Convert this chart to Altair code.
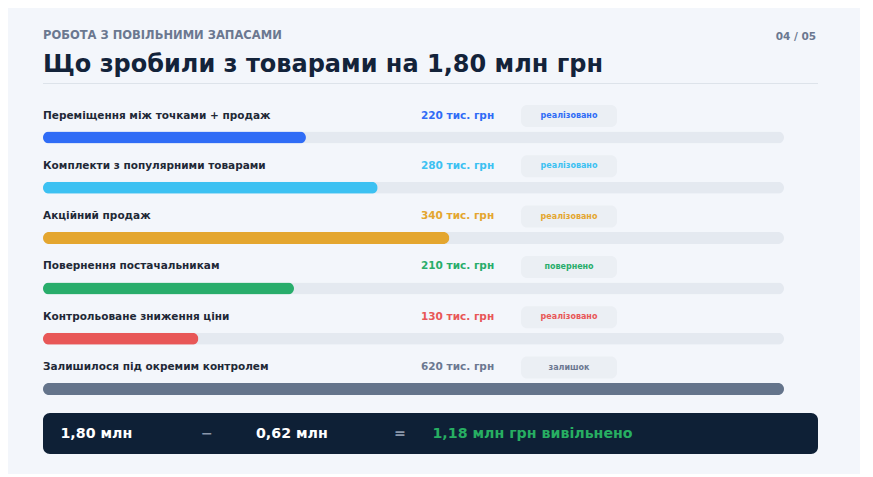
"""Slow stock actions: horizontal progress bars with a summary strip."""

import altair as alt
import pandas as pd

BG = "#f3f6fb"
INK = "#13233a"
MUTED = "#6b7890"
TRACK = "#e4e9f0"
BADGE = "#ebeff4"
NAVY = "#0e2036"
FONT = "DejaVu Sans"

labels = [
    "Переміщення між точками + продаж",
    "Комплекти з популярними товарами",
    "Акційний продаж",
    "Повернення постачальникам",
    "Контрольоване зниження ціни",
    "Залишилося під окремим контролем",
]
values = [220, 280, 340, 210, 130, 620]
value_texts = [f"{v} тис. грн" for v in values]
statuses = ["реалізовано", "реалізовано", "реалізовано", "повернено", "реалізовано", "залишок"]
bar_colors = ["#2f6cf6", "#3cc1f2", "#e4a62f", "#28ad6b", "#e85757", "#64748b"]
text_colors = ["#2f6cf6", "#3cc1f2", "#e4a62f", "#28ad6b", "#e85757", "#6b7891"]

summary_parts = ["1,80 млн", "−", "0,62 млн", "=", "1,18 млн грн вивільнено"]
summary_colors = ["#ffffff", "#8a97aa", "#ffffff", "#8a97aa", "#27ae62"]

df = pd.DataFrame(
    {
        "row": range(len(labels)),
        "label": labels,
        "value": values,
        "value_text": value_texts,
        "status": statuses,
        "color": bar_colors,
        "text_color": text_colors,
        "track": max(values),
    }
)

x_scale = alt.Scale(domain=[0, max(values)], range=[35, 776], padding=0)
y_scale = alt.Scale(domain=[0, len(labels) - 1], range=[129.5, 381], padding=0)
y_enc = alt.Y("row:Q", scale=y_scale, axis=None)

base = alt.Chart(df)

track = base.mark_bar(orient="horizontal", size=12, cornerRadius=6, color=TRACK).encode(
    x=alt.X("track:Q", scale=x_scale, axis=None), y=y_enc
)
bars = base.mark_bar(orient="horizontal", size=12, cornerRadius=6).encode(
    x=alt.X("value:Q", scale=x_scale, axis=None),
    y=y_enc,
    color=alt.Color("color:N", scale=None),
)
row_labels = base.mark_text(
    align="left", baseline="middle", dy=-22, font=FONT, fontSize=10.5, fontWeight="bold", color="#1f2937"
).encode(x=alt.value(35), y=y_enc, text="label:N")
value_labels = base.mark_text(
    align="left", baseline="middle", dy=-22, font=FONT, fontSize=10.5, fontWeight="bold"
).encode(x=alt.value(413), y=y_enc, text="value_text:N", color=alt.Color("text_color:N", scale=None))
badges = base.mark_bar(orient="horizontal", size=22, cornerRadius=6, yOffset=-21.5, color=BADGE).encode(
    x=alt.value(513), x2=alt.value(609), y=y_enc
)
badge_text = base.mark_text(
    align="center", baseline="middle", dy=-21.5, font=FONT, fontSize=8, fontWeight="bold"
).encode(x=alt.value(561), y=y_enc, text="status:N", color=alt.Color("text_color:N", scale=None))

kicker = alt.Chart(pd.DataFrame({"t": ["РОБОТА З ПОВІЛЬНИМИ ЗАПАСАМИ"]})).mark_text(
    align="left", baseline="alphabetic", font=FONT, fontSize=11.5, fontWeight="bold", color=MUTED
).encode(x=alt.value(35), y=alt.value(31), text="t:N")
page_no = alt.Chart(pd.DataFrame({"t": ["04 / 05"]})).mark_text(
    align="right", baseline="alphabetic", font=FONT, fontSize=10.5, fontWeight="bold", color=MUTED
).encode(x=alt.value(808), y=alt.value(32), text="t:N")
title = alt.Chart(pd.DataFrame({"t": ["Що зробили з товарами на 1,80 млн грн"]})).mark_text(
    align="left", baseline="alphabetic", font=FONT, fontSize=24, fontWeight="bold", color=INK
).encode(x=alt.value(35), y=alt.value(63.5), text="t:N")
divider = alt.Chart(pd.DataFrame({"t": [0]})).mark_rule(color="#dde3ea", strokeWidth=1).encode(
    x=alt.value(35), x2=alt.value(810), y=alt.value(75.5)
)

strip = alt.Chart(pd.DataFrame({"t": [0]})).mark_rect(color=NAVY, cornerRadius=7).encode(
    x=alt.value(35), x2=alt.value(810), y=alt.value(405), y2=alt.value(446)
)
summary_df = pd.DataFrame(
    {"part": summary_parts, "color": summary_colors, "pos": [52.5, 193, 248, 386, 424.5]}
)
summary = alt.Chart(summary_df).mark_text(
    align="left", baseline="middle", font=FONT, fontSize=14.2, fontWeight="bold"
).encode(
    x=alt.X("pos:Q", scale=alt.Scale(domain=[0, 852], range=[0, 852], padding=0), axis=None),
    y=alt.value(425.5),
    text="part:N",
    color=alt.Color("color:N", scale=None),
)

chart = (
    alt.layer(
        kicker, page_no, title, divider,
        track, bars, row_labels, value_labels, badges, badge_text,
        strip, summary,
    )
    .resolve_scale(x="independent")
    .properties(width=852, height=466, padding=0, autosize=alt.AutoSizeParams(type="none"))
    .configure(background=BG)
    .configure_view(strokeWidth=0)
)

chart.save("out.html", embed_options={"renderer": "svg", "actions": False})
